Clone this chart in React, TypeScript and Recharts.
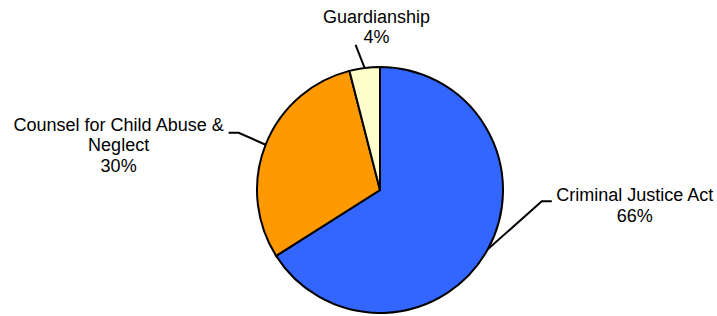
import { Cell, Pie, PieChart } from "recharts"

const categories = ["Criminal Justice Act", "Counsel for Child Abuse & Neglect", "Guardianship"]
const shares = [66, 30, 4]
const labelRows = [["Criminal Justice Act"], ["Counsel for Child Abuse &", "Neglect"], ["Guardianship"]]

const colors = ["#3366FF", "#FF9900", "#FFFFCC"]

// leader elbow / end + first-row text position, relative to the slice's edge point
const labelLayout = [
  { elbow: [54, -48], end: [64, -48], tx: 147, ty: -48 },
  { elbow: [-27, -12], end: [-37, -12], tx: -147, ty: -14 },
  { elbow: [-9, -23], end: [-9, -23], tx: 12, ty: -45 },
]

const data = categories.map((name, i) => ({ name, value: shares[i] }))

const RAD = Math.PI / 180

function SliceLabel(props: any) {
  const { cx, cy, midAngle, outerRadius, percent, index } = props
  const sx = cx + outerRadius * Math.cos(-midAngle * RAD)
  const sy = cy + outerRadius * Math.sin(-midAngle * RAD)
  const l = labelLayout[index]
  const rows = [...labelRows[index], `${Math.round(percent * 100)}%`]
  return (
    <g>
      <polyline
        points={`${sx},${sy} ${sx + l.elbow[0]},${sy + l.elbow[1]} ${sx + l.end[0]},${sy + l.end[1]}`}
        fill="none"
        stroke="#000"
        strokeWidth={2}
      />
      <text
        x={sx + l.tx}
        y={sy + l.ty}
        textAnchor="middle"
        fontFamily="'Liberation Sans', Arial, sans-serif"
        fontSize={18}
        fill="#000"
      >
        {rows.map((r, i) => (
          <tspan key={i} x={sx + l.tx} dy={i === 0 ? 0 : 20.5}>
            {r}
          </tspan>
        ))}
      </text>
    </g>
  )
}

export default function App() {
  return (
    <div style={{ position: "absolute", left: 0, top: 0, width: 717, height: 316, background: "#fff" }}>
      <PieChart width={717} height={316} margin={{ top: 0, right: 0, bottom: 0, left: 0 }}>
        <Pie
          data={data}
          dataKey="value"
          nameKey="name"
          cx={380}
          cy={190}
          outerRadius={123}
          startAngle={90}
          endAngle={-270}
          stroke="#000"
          strokeWidth={2}
          label={SliceLabel}
          labelLine={false}
          isAnimationActive={false}
        >
          {data.map((d, i) => (
            <Cell key={d.name} fill={colors[i]} />
          ))}
        </Pie>
      </PieChart>
    </div>
  )
}
